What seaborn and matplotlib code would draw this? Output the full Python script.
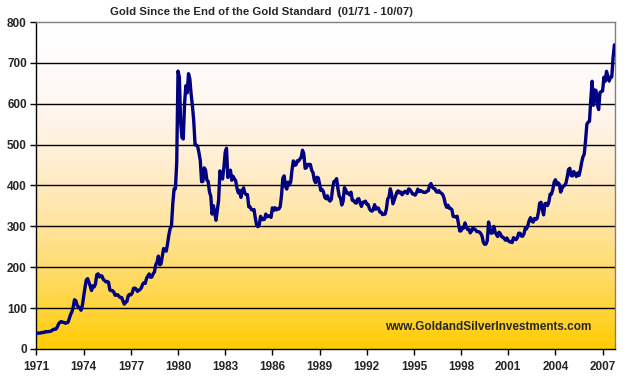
import numpy as np
import pandas as pd
import matplotlib
matplotlib.use("Agg")
import matplotlib.pyplot as plt
import seaborn as sns

# Precio mensual del oro (USD/oz), enero 1971 - octubre 2007
precios_1970s = [
    37.9, 38.7, 38.9, 39.0, 40.5, 40.1, 41.0, 42.7, 42.0, 42.5, 42.9, 43.5,
    45.7, 48.3, 48.3, 49.0, 54.6, 62.1, 65.7, 67.0, 65.5, 64.9, 62.9, 63.9,
    65.1, 74.2, 84.4, 90.5, 102.0, 120.5, 118.2, 106.8, 103.0, 100.1, 94.8, 106.7,
    129.2, 150.2, 168.4, 172.2, 163.3, 154.1, 143.0, 154.6, 151.8, 158.8, 181.7, 183.9,
    176.3, 179.6, 178.2, 170.0, 167.4, 164.2, 165.2, 163.1, 144.1, 142.8, 142.8, 139.3,
    131.3, 132.3, 132.7, 128.4, 125.9, 125.9, 117.8, 109.6, 114.4, 116.1, 130.4, 133.6,
    132.3, 136.4, 148.2, 149.1, 146.7, 141.0, 143.5, 145.5, 149.4, 158.2, 162.2, 160.5,
    173.2, 178.2, 183.7, 175.4, 176.3, 183.7, 188.3, 206.1, 212.3, 227.3, 206.0, 207.8,
    227.3, 245.7, 242.0, 239.2, 257.3, 279.1, 294.7, 300.8, 355.2, 391.7, 391.9, 455.1,
]
precios_1980s = [
    680.0, 665.3, 553.6, 517.4, 513.8, 600.7, 644.3, 626.5, 673.6, 661.2, 623.5, 594.9,
    557.7, 499.8, 498.5, 495.8, 479.7, 460.8, 409.3, 410.1, 443.2, 437.8, 413.4, 410.1,
    384.1, 374.1, 330.0, 350.6, 333.7, 314.9, 339.0, 364.4, 435.8, 422.8, 415.9, 444.3,
    481.4, 491.1, 419.7, 432.8, 437.5, 412.9, 422.6, 416.4, 411.8, 393.7, 382.0, 388.1,
    370.9, 386.7, 394.3, 381.4, 377.6, 377.7, 347.7, 347.7, 341.1, 340.2, 341.2, 320.2,
    302.8, 299.3, 304.3, 324.6, 316.7, 316.6, 317.3, 330.1, 323.5, 325.6, 325.2, 321.9,
    345.4, 338.9, 345.7, 340.4, 342.5, 342.7, 348.5, 376.7, 418.2, 423.5, 398.0, 391.3,
    408.3, 401.0, 409.1, 438.4, 460.1, 449.5, 450.6, 460.5, 459.9, 464.9, 468.9, 486.3,
    477.6, 442.0, 443.6, 451.7, 451.4, 451.5, 437.2, 431.5, 413.3, 406.9, 420.1, 418.7,
    404.0, 387.8, 390.2, 384.2, 371.1, 367.6, 374.7, 365.2, 361.9, 366.6, 393.7, 409.8,
]
precios_1990s = [
    410.1, 416.8, 393.1, 374.3, 369.4, 352.3, 361.6, 394.7, 389.2, 380.8, 381.5, 376.8,
    383.6, 363.8, 363.3, 358.4, 356.9, 366.7, 367.7, 356.5, 348.8, 358.7, 359.8, 361.7,
    354.5, 353.9, 344.3, 338.6, 337.2, 340.8, 353.1, 342.0, 345.4, 344.4, 335.0, 334.7,
    329.0, 329.4, 330.1, 342.2, 367.1, 371.9, 392.0, 378.9, 355.3, 364.2, 373.8, 383.3,
    386.9, 381.9, 384.0, 377.3, 381.4, 385.6, 385.5, 380.4, 391.6, 389.8, 384.4, 379.3,
    378.6, 376.4, 382.1, 391.0, 385.2, 387.6, 386.2, 383.7, 383.1, 383.1, 386.0, 387.4,
    400.0, 404.8, 396.2, 392.9, 392.0, 385.4, 383.4, 387.4, 383.1, 381.1, 377.9, 369.2,
    355.0, 346.6, 351.8, 344.4, 343.8, 340.8, 324.1, 324.0, 322.8, 324.9, 306.0, 288.7,
    289.1, 297.5, 295.9, 308.4, 299.1, 292.3, 292.9, 284.1, 289.0, 296.1, 294.1, 291.6,
    287.1, 287.3, 286.0, 282.6, 276.4, 261.3, 256.1, 256.7, 264.7, 310.7, 293.2, 283.1,
]
precios_2000s = [
    284.3, 299.9, 286.4, 279.7, 275.1, 285.7, 281.6, 274.5, 273.7, 270.0, 266.0, 271.5,
    265.5, 261.9, 263.0, 260.5, 272.4, 270.2, 267.5, 272.4, 283.4, 283.1, 276.2, 275.9,
    281.7, 295.5, 294.0, 302.7, 314.5, 321.2, 313.3, 310.3, 319.2, 316.6, 319.1, 333.4,
    356.9, 359.0, 340.6, 328.2, 355.7, 356.4, 351.0, 359.8, 378.9, 378.9, 389.9, 407.6,
    414.0, 405.3, 406.7, 403.0, 383.8, 392.4, 398.1, 400.5, 405.3, 420.5, 439.4, 442.1,
    424.2, 423.4, 434.2, 429.2, 421.9, 430.7, 424.5, 437.9, 456.0, 469.9, 476.7, 509.8,
    549.9, 555.0, 557.1, 610.6, 655.0, 596.2, 633.7, 632.6, 598.2, 585.8, 627.8, 629.8,
    631.2, 664.8, 654.9, 679.4, 666.9, 655.5, 665.3, 665.4, 712.7, 744.0,
]

anios_ticks = list(range(1971, 2008, 3))
valores_ticks = list(range(0, 801, 100))

precios = precios_1970s + precios_1980s + precios_1990s + precios_2000s
tiempo = 1971 + np.arange(len(precios)) / 12.0
df = pd.DataFrame({"Anio": tiempo, "Precio": precios})

sns.set_style("ticks")
plt.rcParams["font.family"] = ["Liberation Sans", "DejaVu Sans"]

fig = plt.figure(figsize=(6.26, 3.8), dpi=100)
ax = fig.add_axes([0.0583, 0.0816, 0.9249, 0.8605])

x_min, x_max = 1971, 2007.82

# Fondo degradado blanco (arriba) -> dorado (abajo), con tono durazno al medio
t = np.linspace(0, 1, 256)
rojo = 1.0 - 0.0 * t
verde = 1.0 - 0.20 * t ** 1.3
azul = 1.0 - 1.0 * t ** 2.0
colores = np.stack([rojo, verde, azul], axis=-1)[:, None, :]
ax.imshow(colores, extent=[x_min, x_max, 0, 800], aspect="auto", zorder=0,
          origin="upper")

for v in valores_ticks[1:-1]:
    ax.axhline(v, color="black", lw=1.0, zorder=1)

sns.lineplot(data=df, x="Anio", y="Precio", ax=ax, color="#000080",
             lw=2.4, zorder=3)

ax.set_xlim(x_min, x_max)
ax.set_ylim(0, 800)
ax.set_xticks(anios_ticks)
ax.set_yticks(valores_ticks)
ax.set_xlabel("")
ax.set_ylabel("")
ax.tick_params(axis="both", direction="out", length=4, width=1, color="black",
               labelsize=8.5)
ax.tick_params(axis="x", pad=5)
ax.tick_params(axis="y", pad=3)
for lab in ax.get_xticklabels() + ax.get_yticklabels():
    lab.set_fontweight("bold")

for lado in ["left", "bottom"]:
    ax.spines[lado].set_color("black")
    ax.spines[lado].set_linewidth(1.0)
for lado in ["top", "right"]:
    ax.spines[lado].set_visible(True)
    ax.spines[lado].set_color("#808080")
    ax.spines[lado].set_linewidth(1.0)

fig.text(0.418, 0.968, "Gold Since the End of the Gold Standard  (01/71 - 10/07)",
         ha="center", va="center", fontsize=8.2, fontweight="bold")
ax.text(0.78, 0.067, "www.GoldandSilverInvestments.com", transform=ax.transAxes,
        ha="center", va="center", fontsize=8.5, fontweight="bold", zorder=4)

fig.savefig("out.png", dpi=100)
